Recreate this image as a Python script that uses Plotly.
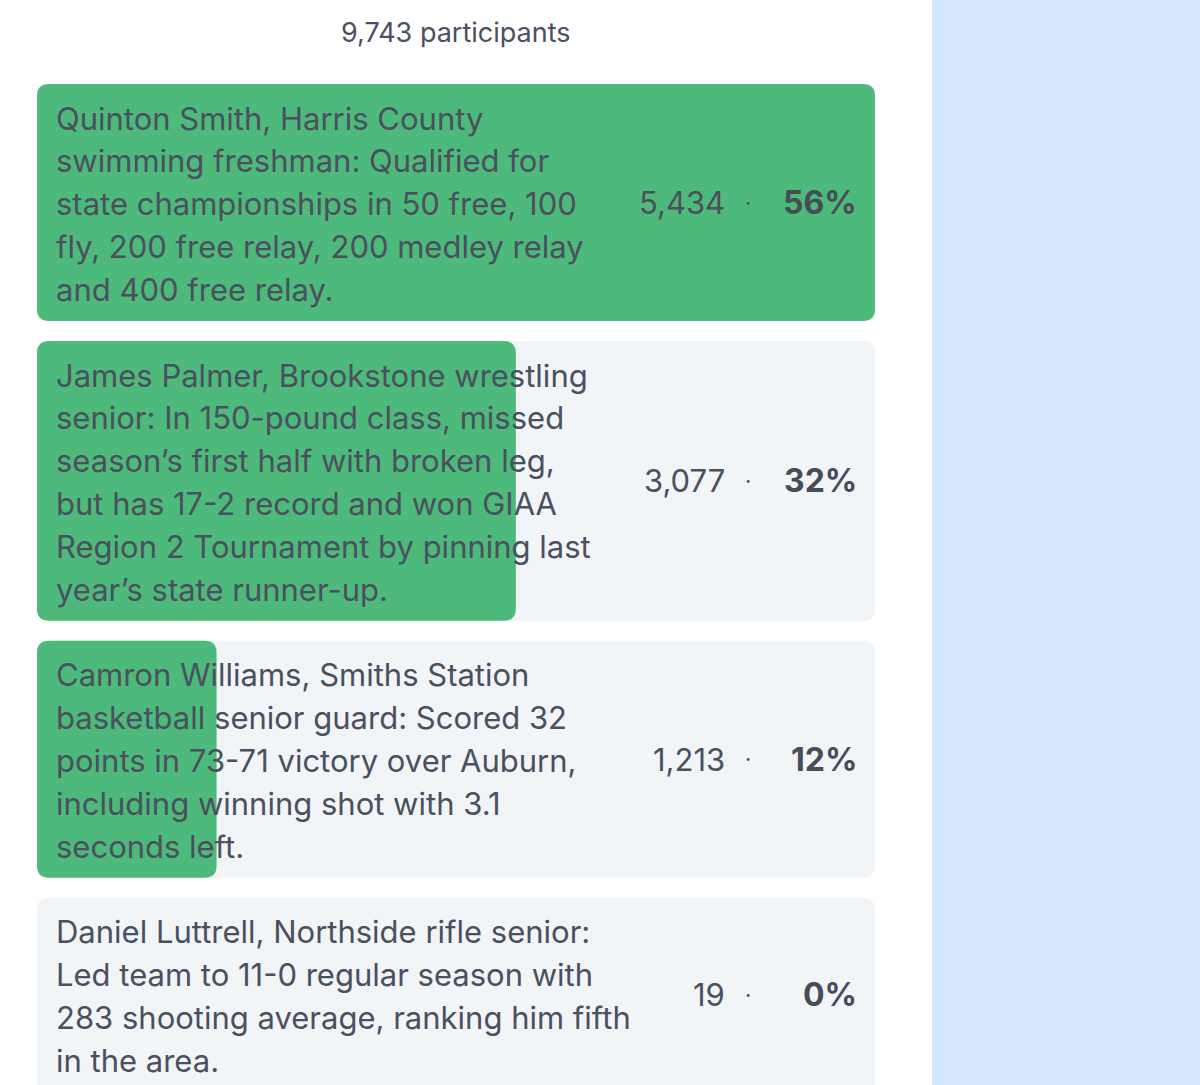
import plotly.graph_objects as go

# ---- data ----
total_participants = 9743
counts = [5434, 3077, 1213, 19]
percents = [56, 32, 12, 0]
option_lines = [
    ["Quinton Smith, Harris County",
     "swimming freshman: Qualified for",
     "state championships in 50 free, 100",
     "fly, 200 free relay, 200 medley relay",
     "and 400 free relay."],
    ["James Palmer, Brookstone wrestling",
     "senior: In 150-pound class, missed",
     "season\u2019s first half with broken leg,",
     "but has 17-2 record and won GIAA",
     "Region 2 Tournament by pinning last",
     "year\u2019s state runner-up."],
    ["Camron Williams, Smiths Station",
     "basketball senior guard: Scored 32",
     "points in 73-71 victory over Auburn,",
     "including winning shot with 3.1",
     "seconds left."],
    ["Daniel Luttrell, Northside rifle senior:",
     "Led team to 11-0 regular season with",
     "283 shooting average, ranking him fifth",
     "in the area."],
]

# ---- layout constants (pixels) ----
W, H = 1200, 1085
CARD_L, CARD_R = 37, 875
FIRST_TOP = 84
GAP = 20
LINE_H = 42.8
PAD = 23
RADIUS = 12
FONT = "Inter"
TXT = "#4a5060"
GREEN = "#4db97a"
CARD_BG = "#f1f5f8"
BLUE = "#d4e8fd"

pmax = max(percents)
s = pmax / (CARD_R - CARD_L)          # data units per pixel on x
x_range = [-CARD_L * s, (W - CARD_L) * s]


def rounded_path(x0, x1, y0, y1, rx, ry):
    return (f"M {x0+rx},{y0} L {x1-rx},{y0} Q {x1},{y0} {x1},{y0+ry} "
            f"L {x1},{y1-ry} Q {x1},{y1} {x1-rx},{y1} L {x0+rx},{y1} "
            f"Q {x0},{y1} {x0},{y1-ry} L {x0},{y0+ry} Q {x0},{y0} {x0+rx},{y0} Z")


fig = go.Figure()
shapes = []
annotations = []

# right blue panel
shapes.append(dict(type="rect", xref="paper", yref="paper", x0=932 / W, x1=1,
                   y0=0, y1=1, fillcolor=BLUE, line=dict(width=0), layer="below"))

annotations.append(dict(text=f"{total_participants:,} participants", xref="x", yref="y",
                        x=pmax / 2, y=32, showarrow=False, xanchor="center", yanchor="middle",
                        font=dict(family=FONT, size=27, color=TXT)))

rx = RADIUS * s
top = FIRST_TOP
for lines, cnt, pct in zip(option_lines, counts, percents):
    h = len(lines) * LINE_H + PAD
    bottom = top + h
    shapes.append(dict(type="path", xref="x", yref="y",
                       path=rounded_path(0, pmax, top, bottom, rx, RADIUS),
                       fillcolor=CARD_BG, line=dict(width=0), layer="below"))
    if pct > 0:
        shapes.append(dict(type="path", xref="x", yref="y",
                           path=rounded_path(0, pct, top, bottom, min(rx, pct / 2), RADIUS),
                           fillcolor=GREEN, line=dict(width=0), layer="below"))
    for i, ln in enumerate(lines):
        annotations.append(dict(text=ln, xref="x", yref="y", x=17 * s,
                                y=top + 34 + i * LINE_H, showarrow=False,
                                xanchor="left", yanchor="middle",
                                font=dict(family=FONT, size=31, color=TXT)))
    mid = (top + bottom) / 2
    annotations.append(dict(text=f"{cnt:,}", xref="x", yref="y", x=pmax - 148 * s, y=mid,
                            showarrow=False, xanchor="right", yanchor="middle",
                            font=dict(family=FONT, size=31, color=TXT)))
    annotations.append(dict(text="\u00b7", xref="x", yref="y", x=pmax - 127 * s, y=mid,
                            showarrow=False, xanchor="center", yanchor="middle",
                            font=dict(family=FONT, size=22, color=TXT)))
    annotations.append(dict(text=f"<b>{pct}%</b>", xref="x", yref="y", x=pmax - 16 * s, y=mid,
                            showarrow=False, xanchor="right", yanchor="middle",
                            font=dict(family=FONT, size=32, color="#464c58")))
    top = bottom + GAP

fig.update_layout(
    width=W, height=H,
    margin=dict(l=0, r=0, t=0, b=0),
    paper_bgcolor="white", plot_bgcolor="white",
    xaxis=dict(range=x_range, visible=False, fixedrange=True),
    yaxis=dict(range=[H, 0], visible=False, fixedrange=True),
    shapes=shapes, annotations=annotations, showlegend=False,
)
fig.write_html("out.html", config={"displayModeBar": False},
               post_script="document.body.style.margin='0';document.body.style.overflow='hidden';")
